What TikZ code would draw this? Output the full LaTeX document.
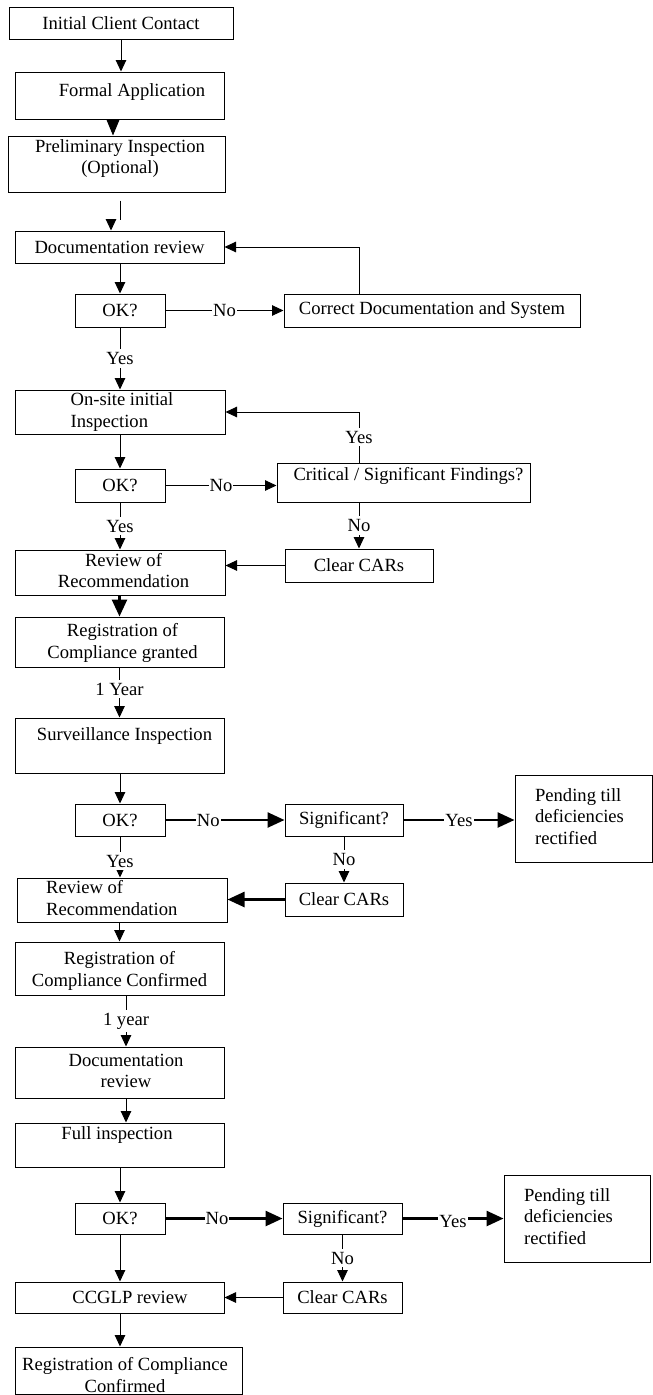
\documentclass[tikz,border=0pt]{standalone}
\usepackage{fontspec}
\setmainfont{Liberation Serif}
\usetikzlibrary{arrows.meta}
\newcommand\figfont{\fontsize{18.6}{21.5}\selectfont}
\newcommand\nudge[3]{\raisebox{#2}[\height][\depth]{\rlap{\hspace*{#1}#3}\phantom{#3}}}
\newcommand\mlc[1]{\begin{tabular}{@{}c@{}}#1\end{tabular}}
\newcommand\mll[1]{\begin{tabular}{@{}l@{}}#1\end{tabular}}
\begin{document}
\begin{tikzpicture}[x=1pt,y=1pt,
 box/.style={draw,line width=1pt,inner sep=0pt,font=\figfont},
 wh/.style 2 args={minimum width=#1pt,minimum height=#2pt},
 arr/.style={line width=1pt,-{Triangle[width=10.5pt,length=11.5pt]}},
 bighead/.style={line width=1pt,-{Triangle[width=13pt,length=16pt]}},
 thk/.style={line width=2.6pt,-{Triangle[width=15pt,length=17pt]}},
 lab/.style={fill=white,inner xsep=1pt,inner ysep=3pt,font=\figfont},
]
\useasboundingbox (0,0) rectangle (653,-1395);

% boxes
\node[box,wh={224}{32}] (init) at (121,-23) {Initial Client Contact};
\node[box,wh={209}{47}] (formal) at (119.5,-95.5) {\nudge{12.5pt}{3.5pt}{Formal Application}};
\node[box,wh={217}{56}] (prelim) at (116.5,-164) {\nudge{3.5pt}{5.5pt}{\mlc{Preliminary Inspection\\(Optional)}}};
\node[box,wh={209}{32}] (docrev) at (119.5,-247) {Documentation review};
\node[box,wh={90}{33}] (ok1) at (120,-310.5) {OK?};
\node[box,wh={296}{33}] (correct) at (432,-310.5) {Correct Documentation and System};
\node[box,wh={210}{44}] (onsite) at (120,-412) {\nudge{2pt}{0pt}{\mll{On-site initial\\Inspection}}};
\node[box,wh={90}{33}] (ok2) at (120,-485.5) {OK?};
\node[box,wh={253}{39}] (crit) at (403.5,-482.5) {\nudge{5pt}{6.5pt}{Critical / Significant Findings?}};
\node[box,wh={148}{33}] (clear1) at (359,-565.5) {Clear CARs};
\node[box,wh={210}{45}] (review1) at (120,-572.5) {\nudge{3.5pt}{0pt}{\mlc{Review of\\Recommendation}}};
\node[box,wh={209}{50}] (granted) at (119.5,-642) {\nudge{3pt}{-1pt}{\mlc{Registration of\\Compliance granted}}};
\node[box,wh={209}{55}] (surv) at (119.5,-745.5) {\nudge{5pt}{9.5pt}{Surveillance Inspection}};
\node[box,wh={90}{32}] (ok3) at (120,-820) {OK?};
\node[box,wh={118}{32}] (sig1) at (344,-820) {Significant?};
\node[box,wh={137}{87}] (pend1) at (583.5,-818.5) {\nudge{-4pt}{0pt}{\mll{Pending till\\deficiencies\\rectified}}};
\node[box,wh={209.5}{44}] (review2) at (122.25,-900) {\nudge{-10.5pt}{0pt}{\mll{Review of\\Recommendation}}};
\node[box,wh={118}{33}] (clear2) at (344,-899.5) {Clear CARs};
\node[box,wh={209}{53}] (confirmed) at (119.5,-968.5) {\nudge{0pt}{-2.5pt}{\mlc{Registration of\\Compliance Confirmed}}};
\node[box,wh={209}{51}] (docrev2) at (119.5,-1072.5) {\nudge{6.5pt}{0pt}{\mlc{Documentation\\review}}};
\node[box,wh={209}{44}] (full) at (119.5,-1145) {\nudge{-2.5pt}{10pt}{Full inspection}};
\node[box,wh={90}{31}] (ok4) at (120,-1218.5) {OK?};
\node[box,wh={119}{31}] (sig2) at (342.5,-1218.5) {Significant?};
\node[box,wh={146}{87}] (pend2) at (577,-1218.5) {\nudge{-8.5pt}{0pt}{\mll{Pending till\\deficiencies\\rectified}}};
\node[box,wh={209}{31}] (ccglp) at (119.5,-1297.5) {\nudge{10.5pt}{0pt}{CCGLP review}};
\node[box,wh={119}{31}] (clear3) at (342.5,-1297.5) {Clear CARs};
\node[box,wh={227}{47}] (final) at (128.5,-1370.5) {\nudge{-3.5pt}{-6.5pt}{\mlc{Registration of Compliance\\Confirmed}}};

% connectors
\draw[arr] (init.south) -- (init.south |- formal.north);
\draw[bighead] ([xshift=-6.5pt]formal.south) -- ([xshift=-6.5pt]formal.south |- prelim.north);
\draw[line width=1pt] ([xshift=3.5pt,yshift=-8pt]prelim.south) -- ([xshift=0.5pt,yshift=11pt]docrev.north);
\draw[arr] ([xshift=-8.5pt,yshift=10pt]docrev.north) -- ([xshift=-8.5pt]docrev.north);
\draw[arr] (docrev.south -| ok1.north) -- (ok1.north);
\draw[arr] (ok1.east) -- node[lab]{No} (correct.west);
\draw[arr] (correct.north -| clear1.north) |- (docrev.east);
\draw[arr] (ok1.south) -- node[lab]{Yes} (ok1.south |- onsite.north);

\draw[arr] (onsite.south) -- (ok2.north);
\draw[arr] (ok2.east) -- node[lab]{No} (ok2.east -| crit.west);
\draw[arr] (crit.north -| clear1.north) |- node[lab,pos=0.25]{Yes} (onsite.east);
\draw[arr] (crit.south -| clear1.north) -- node[lab]{No} (clear1.north);
\draw[arr] (ok2.south) -- node[lab]{Yes} (review1.north);
\draw[arr] (clear1.west) -- (clear1.west -| review1.east);

\draw[thk] (review1.south -| granted.north) -- (granted.north);
\draw[arr] (granted.south) -- node[lab,pos=0.43]{1 Year} (surv.north);
\draw[arr] (surv.south -| ok3.north) -- (ok3.north);
\draw[thk] (ok3.east) -- node[lab,pos=0.36]{No} (sig1.west);
\draw[thk] (sig1.east) -- node[lab]{Yes} (sig1.east -| pend1.west);
\draw[arr] (ok3.south) -- node[lab,pos=0.6]{Yes} (ok3.south |- review2.north);
\draw[arr] (sig1.south) -- node[lab]{No} (clear2.north);
\draw[thk] (clear2.west) -- (clear2.west -| review2.east);

\draw[arr] (review2.south -| confirmed.north) -- (confirmed.north);
\draw[arr] ([xshift=6.5pt]confirmed.south) -- node[lab]{1 year} ([xshift=6.5pt]confirmed.south |- docrev2.north);
\draw[arr] ([xshift=6.5pt]docrev2.south) -- ([xshift=6.5pt]docrev2.south |- full.north);
\draw[arr] (full.south -| ok4.north) -- (ok4.north);
\draw[thk] (ok4.east) -- node[lab,pos=0.44]{No} (sig2.west);
\draw[thk] (sig2.east) -- node[lab,yshift=-3pt]{Yes} (pend2.west);
\draw[arr] (sig2.south) -- node[lab]{No} (clear3.north);
\draw[arr] (ok4.south) -- (ok4.south |- ccglp.north);
\draw[arr] (clear3.west) -- (ccglp.east);
\draw[arr] ([xshift=0.5pt]ccglp.south) -- ([xshift=0.5pt]ccglp.south |- final.north);
\end{tikzpicture}
\end{document}
